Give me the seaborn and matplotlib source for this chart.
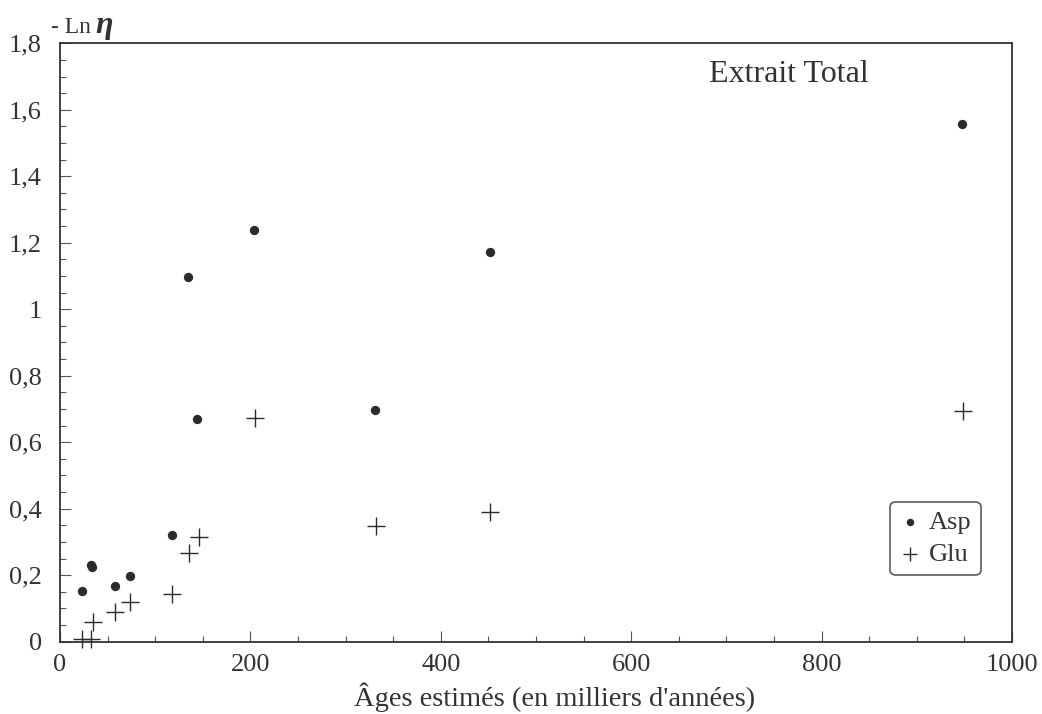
import matplotlib
matplotlib.use('Agg')
import matplotlib.pyplot as plt
import numpy as np
import pandas as pd
import seaborn as sns
from matplotlib.ticker import MultipleLocator, FixedLocator, FixedFormatter

# Data (ages in thousands of years, -Ln eta)
asp_age = [23, 33, 34, 58, 74, 118, 134, 144, 204, 331, 452, 948]
asp_val = [0.152, 0.230, 0.224, 0.168, 0.198, 0.322, 1.098, 0.670, 1.239, 0.696, 1.172, 1.557]
glu_age = [23, 33, 35, 58, 74, 118, 136, 146, 205, 332, 452, 949]
glu_val = [0.008, 0.008, 0.059, 0.090, 0.120, 0.143, 0.268, 0.314, 0.672, 0.349, 0.391, 0.695]

xticks = [0, 200, 400, 600, 800, 1000]
xtick_labels = ['0', '200', '400', '600', '800', '1000']
yticks = [0, 0.2, 0.4, 0.6, 0.8, 1.0, 1.2, 1.4, 1.6, 1.8]
ytick_labels = ['0', '0,2', '0,4', '0,6', '0,8', '1', '1,2', '1,4', '1,6', '1,8']

asp = pd.DataFrame({'age': asp_age, 'val': asp_val})
glu = pd.DataFrame({'age': glu_age, 'val': glu_val})

sns.set_style('white')
plt.rcParams['font.family'] = ['Liberation Serif', 'DejaVu Serif']

fig = plt.figure(figsize=(10.42, 7.14), dpi=100)
ax = fig.add_axes([0.0576, 0.1013, 0.9136, 0.8381])

ink = '#2b2b2b'
sns.scatterplot(data=asp, x='age', y='val', ax=ax, marker='o', s=45,
                color=ink, edgecolor=ink, linewidth=0, label='Asp', clip_on=False)
sns.scatterplot(data=glu, x='age', y='val', ax=ax, marker='+', s=150,
                color=ink, linewidth=1.0, label='Glu', clip_on=False)

ax.set_xlim(0, 1000)
ax.set_ylim(0, 1.8)
ax.xaxis.set_major_locator(FixedLocator(xticks))
ax.xaxis.set_major_formatter(FixedFormatter(xtick_labels))
ax.yaxis.set_major_locator(FixedLocator(yticks))
ax.yaxis.set_major_formatter(FixedFormatter(ytick_labels))
ax.xaxis.set_minor_locator(MultipleLocator(50))
ax.yaxis.set_minor_locator(MultipleLocator(0.05))
ax.tick_params(which='major', direction='in', length=8, width=0.8, color='#555555',
               labelsize=19, labelcolor='#333333')
ax.tick_params(axis='y', which='major', pad=13)
ax.tick_params(axis='x', which='major', pad=9)
ax.tick_params(which='minor', direction='in', length=4, width=0.8, color='#555555')
ax.tick_params(bottom=True, left=True, top=False, right=False, which='both')

for s in ax.spines.values():
    s.set_visible(True)
    s.set_color('#333333')
    s.set_linewidth(1.3)

ax.set_xlabel("Âges estimés (en milliers d'années)", fontsize=20.5, color='#333333')
ax.xaxis.set_label_coords(0.52, -0.093)
ax.xaxis.label.set_va('center')
ax.set_ylabel('')

ax.text(0.766, 0.947, 'Extrait Total', transform=ax.transAxes, ha='center', va='center',
        fontsize=23, color='#333333')
ax.text(-0.009, 1.017, '- Ln', transform=ax.transAxes, ha='left', va='baseline',
        fontsize=17, color='#333333')
ax.text(0.037, 1.017, 'η', transform=ax.transAxes,
        ha='left', va='baseline', fontsize=23, fontweight='bold', fontstyle='italic',
        color='#333333')

leg = ax.legend(loc='upper right', bbox_to_anchor=(0.967, 0.234), fontsize=19,
                frameon=True, fancybox=True, edgecolor='#333333', handlelength=0.8,
                handletextpad=0.3, borderpad=0.35, labelspacing=0.3, markerscale=0.8,
                borderaxespad=0)
leg.get_frame().set_linewidth(1.2)
for t in leg.get_texts():
    t.set_color('#333333')

plt.savefig('out.png', dpi=100)
